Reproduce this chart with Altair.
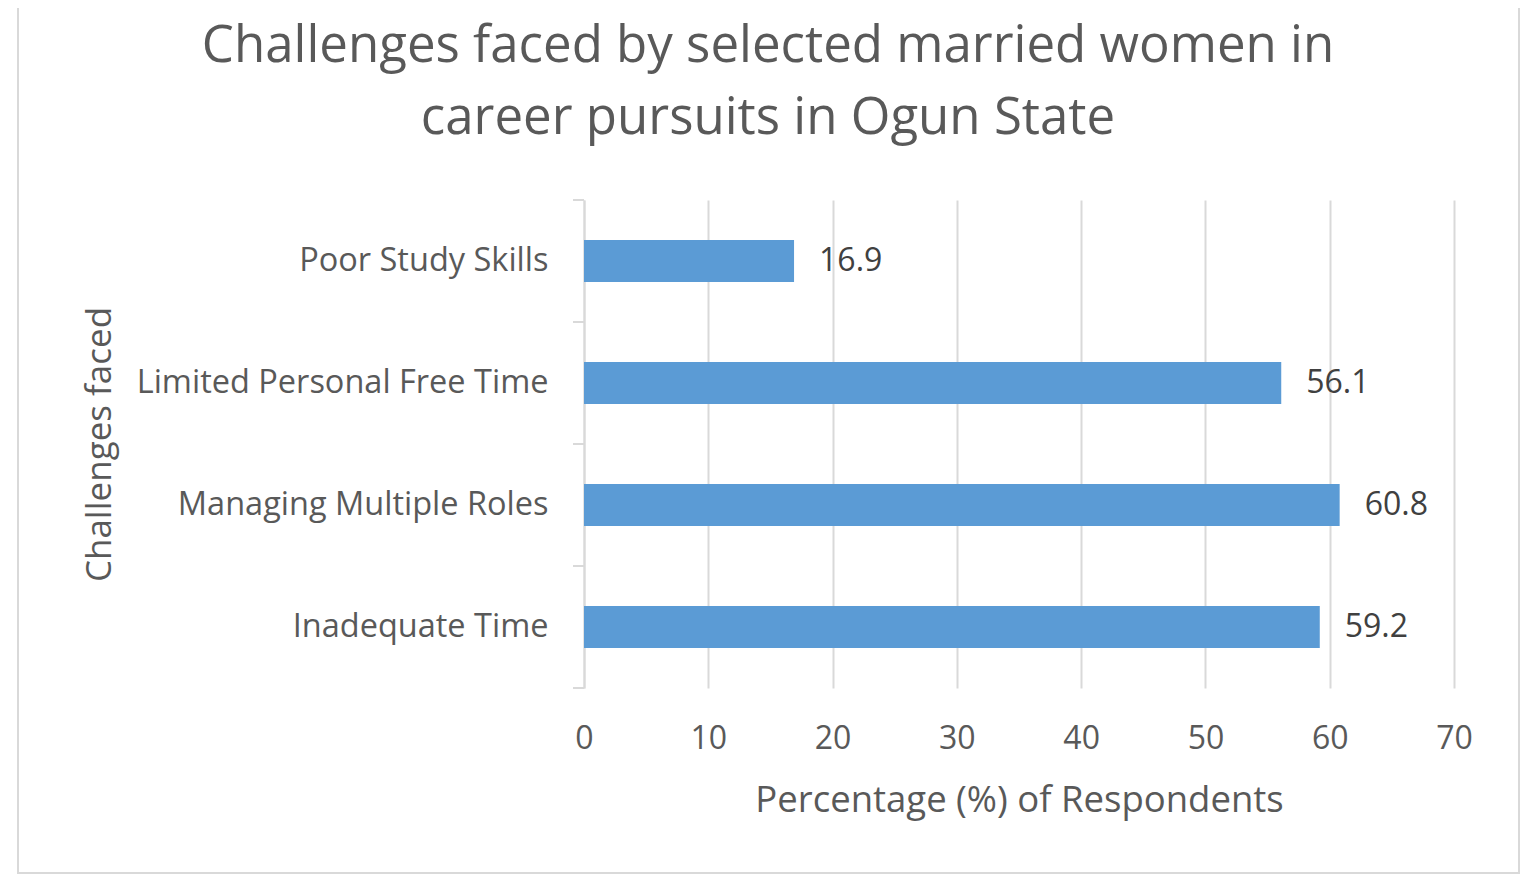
import pandas as pd
import altair as alt

# values (top to bottom)
challenges = ["Poor Study Skills", "Limited Personal Free Time",
              "Managing Multiple Roles", "Inadequate Time"]
percent = [16.9, 56.1, 60.8, 59.2]
x_ticks = [0, 10, 20, 30, 40, 50, 60, 70]
boundaries = [0, 1, 2, 3, 4]  # category edges for the y-axis ticks

title_lines = ["Challenges faced by selected married women in",
               "career pursuits in Ogun State"]

df = pd.DataFrame({"challenge": challenges, "percent": percent})
edges = pd.DataFrame({"edge": boundaries})

FONT = "Open Sans"
GREY = "#595959"
LINE = "#D9D9D9"

y_enc = alt.Y(
    "challenge:N",
    sort=challenges,
    scale=alt.Scale(paddingInner=0.656, paddingOuter=0.328),
    axis=alt.Axis(
        title="Challenges faced", titleFont=FONT, titleFontSize=35,
        titleFontWeight="normal", titleColor=GREY, titleAngle=-90,
        titleBaseline="alphabetic", titleAlign="center",
        titleX=-474, titleY=244,
        labelFont=FONT, labelFontSize=32.5, labelColor=GREY,
        labelPadding=36, labelLimit=700,
        ticks=False, tickSize=0,
        domainColor=LINE, domainWidth=2,
    ),
)

x_enc = alt.X(
    "percent:Q",
    scale=alt.Scale(domain=[0, 70], nice=False),
    axis=alt.Axis(
        values=x_ticks, grid=True, gridColor=LINE, gridWidth=2,
        domain=False, ticks=False, tickSize=0,
        labelFont=FONT, labelFontSize=32, labelColor=GREY,
        labelBaseline="alphabetic", labelPadding=60, labelFlush=False,
        title="Percentage (%) of Respondents", titleFont=FONT,
        titleFontSize=36.5, titleFontWeight="normal", titleColor=GREY,
        titleBaseline="alphabetic", titleAlign="center",
        titleX=435, titleY=123,
    ),
)

bars = alt.Chart(df).mark_bar(color="#5B9BD5").encode(x=x_enc, y=y_enc)

labels = alt.Chart(df).mark_text(
    align="left", baseline="middle", dx=25,
    font=FONT, fontSize=32, color="#404040"
).encode(x=x_enc, y=y_enc, text=alt.Text("percent:Q", format=".1f"))

# little ticks at the category edges, left of the axis line
edge_ticks = alt.Chart(edges).mark_rule(color=LINE, strokeWidth=2).encode(
    y=alt.Y("edge:Q", scale=alt.Scale(domain=[0, 4]), axis=None),
    x=alt.value(-11), x2=alt.value(0),
)

# outer chart-area border
frame = alt.Chart(alt.Data(values=[{"f": 1}])).mark_rect(
    fillOpacity=0, stroke=LINE, strokeWidth=2
).encode(x=alt.value(-566), x2=alt.value(935), y=alt.value(-196), y2=alt.value(673))

chart = alt.layer(frame, alt.layer(bars, labels), edge_ticks).resolve_scale(
    y="independent"
).properties(
    width=870, height=488,
    padding={"left": 576, "top": 192, "right": 70, "bottom": 187},
    autosize=alt.AutoSizeParams(type="none"),
    background="white",
    title=alt.TitleParams(
        text=title_lines, font=FONT, fontSize=51, fontWeight="normal",
        color=GREY, anchor="middle", baseline="alphabetic",
        lineHeight=72, offset=0, dx=-251, dy=182,
    ),
).configure_view(strokeWidth=0)

chart.save("out.html", embed_options={"renderer": "svg", "actions": False})
